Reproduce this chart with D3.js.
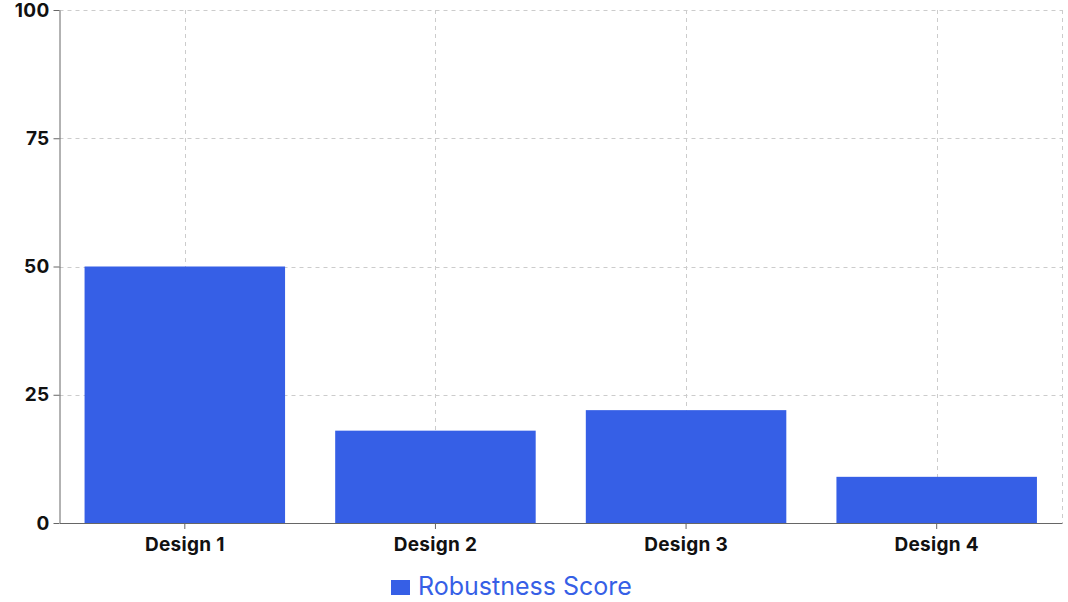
<!DOCTYPE html>
<html>
<head>
<meta charset="utf-8">
<script src="https://cdn.jsdelivr.net/npm/d3@7"></script>
<style>
  body { margin: 0; background: #fff; }
  svg text { font-family: "Inter", "Roboto", sans-serif; }
</style>
</head>
<body>
<svg id="chart" width="1068" height="602"></svg>
<script>
// data
var categories = ["Design 1", "Design 2", "Design 3", "Design 4"];
var robustness = [50, 18, 22, 9];
var yTicks = [0, 25, 50, 75, 100];
var seriesName = "Robustness Score";

var barColor = "#365fe6";
var margin = {top: 10, right: 6, bottom: 79, left: 59.5};
var width = 1068, height = 602;

var svg = d3.select("#chart");

var x = d3.scaleBand()
    .domain(categories)
    .range([margin.left, width - margin.right])
    .paddingInner(0.2)
    .paddingOuter(0.1);

var y = d3.scaleLinear()
    .domain([0, 100])
    .range([height - margin.bottom, margin.top]);

// grid
var grid = svg.append("g").attr("class", "grid");
grid.selectAll("line.h")
    .data(yTicks.filter(function(d){ return d > 0; }))
    .enter().append("line")
    .attr("x1", margin.left)
    .attr("x2", width - margin.right)
    .attr("y1", function(d){ return Math.round(y(d)) + 0.5; })
    .attr("y2", function(d){ return Math.round(y(d)) + 0.5; })
    .attr("stroke", "#cccccc")
    .attr("stroke-dasharray", "4 4");
grid.selectAll("line.v")
    .data(categories)
    .enter().append("line")
    .attr("x1", function(d){ return Math.round(x(d) + x.bandwidth() / 2) + 0.5; })
    .attr("x2", function(d){ return Math.round(x(d) + x.bandwidth() / 2) + 0.5; })
    .attr("y1", margin.top)
    .attr("y2", height - margin.bottom)
    .attr("stroke", "#cccccc")
    .attr("stroke-dasharray", "4 4");
grid.append("line")
    .attr("x1", width - margin.right + 0.5)
    .attr("x2", width - margin.right + 0.5)
    .attr("y1", margin.top)
    .attr("y2", height - margin.bottom)
    .attr("stroke", "#cccccc")
    .attr("stroke-dasharray", "4 4");

// bars
svg.append("g").selectAll("rect")
    .data(categories)
    .enter().append("rect")
    .attr("x", function(d){ return x(d); })
    .attr("y", function(d, i){ return y(robustness[i]); })
    .attr("width", x.bandwidth())
    .attr("height", function(d, i){ return y(0) - y(robustness[i]); })
    .attr("fill", barColor);

// axes
var xAxis = svg.append("g")
    .attr("transform", "translate(0," + (height - margin.bottom) + ")")
    .call(d3.axisBottom(x).tickSize(6).tickSizeOuter(0));
var yAxis = svg.append("g")
    .attr("transform", "translate(" + margin.left + ",0)")
    .call(d3.axisLeft(y).tickValues(yTicks).tickSize(6).tickSizeOuter(0));

[xAxis, yAxis].forEach(function(ax){
    ax.select(".domain").attr("stroke", "#666");
    ax.selectAll(".tick line").attr("stroke", "#666");
    ax.selectAll(".tick text")
        .attr("fill", "#111")
        .style("font-size", "19px")
        .style("font-weight", "bold")
        .style("letter-spacing", "0.3px")
        .style("font-family", "Inter, Roboto, sans-serif");
});
xAxis.selectAll(".tick text").attr("dy", "1.0em");
yAxis.selectAll(".tick text").attr("x", -10);

// legend
var legend = svg.append("g").attr("transform", "translate(391,580)");
legend.append("rect")
    .attr("width", 19)
    .attr("height", 15)
    .attr("fill", barColor);
legend.append("text")
    .attr("x", 27)
    .attr("y", 15)
    .attr("fill", barColor)
    .style("font-size", "25px")
    .text(seriesName);
</script>
</body>
</html>
